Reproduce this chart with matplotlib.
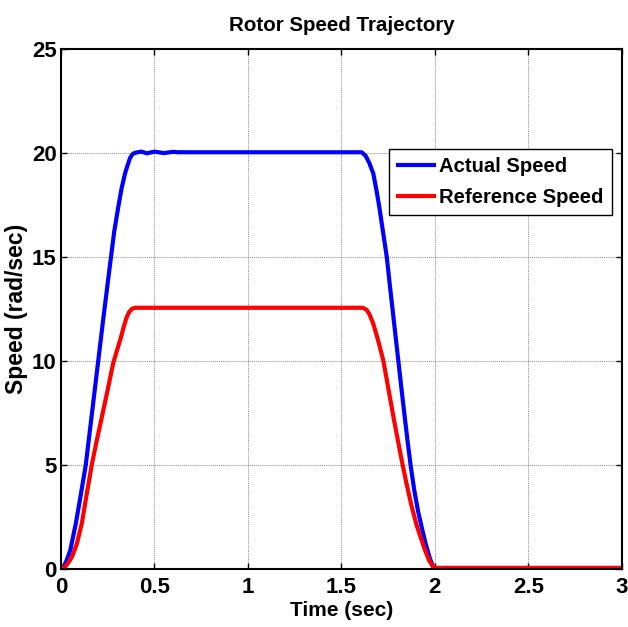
import numpy as np
import matplotlib
matplotlib.use("Agg")
import matplotlib.pyplot as plt

# values
t_actual = [0.0, 0.014, 0.03, 0.05, 0.08, 0.105, 0.133, 0.165, 0.197, 0.225,
            0.254, 0.285, 0.307, 0.325, 0.343, 0.355, 0.37, 0.385, 0.40,
            0.43, 0.46, 0.50, 0.55, 0.60, 0.63,
            1.609, 1.63, 1.65, 1.671, 1.688, 1.703, 1.723, 1.743, 1.76, 1.775,
            1.79, 1.805, 1.82, 1.838, 1.855, 1.872, 1.89, 1.91, 1.93, 1.95,
            1.974, 1.992, 2.0, 3.0]
v_actual = [0.0, 0.1, 0.4, 0.9, 2.2, 3.5, 5.0, 7.4, 9.8, 11.9,
            14.0, 16.2, 17.4, 18.3, 19.0, 19.35, 19.75, 19.95, 20.0,
            20.05, 19.97, 20.05, 19.98, 20.04, 20.02,
            20.02, 19.85, 19.5, 19.0, 18.2, 17.4, 16.2, 15.0, 13.6, 12.4,
            11.2, 10.0, 8.8, 7.4, 6.1, 4.9, 3.8, 2.8, 2.0, 1.25,
            0.5, 0.1, 0.05, 0.05]

t_ref = [0.0, 0.022, 0.04, 0.06, 0.085, 0.112, 0.14, 0.165, 0.19, 0.219,
         0.25, 0.28, 0.30, 0.317, 0.335, 0.35, 0.365, 0.38, 0.397,
         1.616, 1.635, 1.65, 1.67, 1.69, 1.705, 1.725, 1.75, 1.778, 1.80,
         1.828, 1.85, 1.875, 1.903, 1.925, 1.948, 1.97, 1.992, 2.0, 3.0]
v_ref = [0.0, 0.1, 0.3, 0.6, 1.2, 2.2, 3.7, 5.0, 6.1, 7.3,
         8.6, 9.9, 10.5, 11.0, 11.6, 12.05, 12.35, 12.5, 12.55,
         12.55, 12.45, 12.25, 11.8, 11.2, 10.7, 10.0, 8.75, 7.35, 6.3,
         5.0, 4.05, 3.05, 2.1, 1.5, 0.9, 0.4, 0.1, 0.05, 0.05]

xticks = [0, 0.5, 1, 1.5, 2, 2.5, 3]
xtick_labels = ["0", "0.5", "1", "1.5", "2", "2.5", "3"]
yticks = [0, 5, 10, 15, 20, 25]

plt.rcParams['font.family'] = ['Liberation Sans', 'DejaVu Sans']
plt.rcParams['font.weight'] = 'bold'

fig = plt.figure(figsize=(6.28, 6.27), dpi=100)
ax = fig.add_axes([0.097, 0.0925, 0.893, 0.83])

ax.plot(t_actual, v_actual, color='#0000ff', lw=3.0, label='Actual Speed')
ax.plot(t_ref, v_ref, color='#ff0000', lw=3.0, label='Reference Speed')

ax.set_xlim(0, 3)
ax.set_ylim(0, 25)
ax.set_xticks(xticks)
ax.set_xticklabels(xtick_labels)
ax.set_yticks(yticks)
ax.tick_params(direction='in', length=4, width=1, top=True, right=True,
               labelsize=16)
ax.tick_params(axis='x', pad=6)
ax.tick_params(axis='y', pad=3)
for lab in ax.get_xticklabels() + ax.get_yticklabels():
    lab.set_fontweight('bold')
for sp in ax.spines.values():
    sp.set_linewidth(1.5)

ax.grid(True, color='#8a8a8a', lw=0.7, ls=(0, (1, 1)))

ax.set_title('Rotor Speed Trajectory', fontsize=14.8, fontweight='bold', pad=13)
ax.set_xlabel('Time (sec)', fontsize=15, fontweight='bold', labelpad=2)
ax.set_ylabel('Speed (rad/sec)', fontsize=16.5, fontweight='bold', labelpad=3)

leg = ax.legend(loc='upper right', bbox_to_anchor=(0.982, 0.807), fontsize=14.6,
                fancybox=False, framealpha=1, edgecolor='black',
                handlelength=1.8, borderpad=0.4, labelspacing=0.6,
                handletextpad=0.25, borderaxespad=0)
leg.get_frame().set_linewidth(1.0)
for txt in leg.get_texts():
    txt.set_fontweight('bold')

fig.savefig('out.png', dpi=100)
